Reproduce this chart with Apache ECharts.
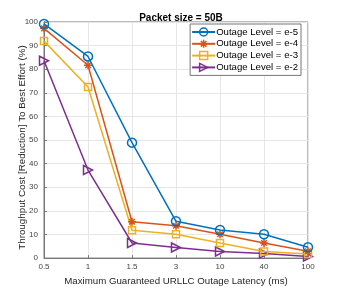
<!DOCTYPE html>
<html><head><meta charset="utf-8">
<script src="https://cdn.jsdelivr.net/npm/echarts@6/dist/echarts.min.js"></script>
<style>html,body{margin:0;padding:0;background:#fff}#c{width:341px;height:291px}</style>
</head><body><div id="c"></div>
<script>
var categories = ['0.5','1','1.5','3','10','40','100'];
var e5 = [99.2, 85.4, 48.9, 15.6, 11.9, 10.1, 4.6];
var e4 = [97.3, 81.7, 15.4, 13.7, 10.1, 6.4, 2.9];
var e3 = [91.9, 72.5, 11.8, 10.1, 6.4, 2.8, 1.7];
var e2 = [83.6, 37.3, 6.4, 4.5, 2.8, 1.9, 0.7];
var names = ['Outage Level = e-5','Outage Level = e-4','Outage Level = e-3','Outage Level = e-2'];
var colors = ['#0072BD','#D95319','#EDB120','#7E2F8E'];
var symbols = ['circle','path://M5,0L5,10M0,5L10,5M1.5,1.5L8.5,8.5M8.5,1.5L1.5,8.5','rect','path://M0,0L10,5L0,10Z'];
var sizes = [9, 8, 7, 9];
var data = [e5, e4, e3, e2];
var font = 'Liberation Sans, Arial, sans-serif';
var chart = echarts.init(document.getElementById('c'));
chart.setOption({
  animation: false,
  title: {text: 'Packet size = 50B', left: 176, top: 8, textAlign: 'center',
    textStyle: {fontFamily: font, fontSize: 10, fontWeight: 'bold', color: '#000'}},
  grid: {left: 44, right: 33, top: 22, bottom: 32, show: true, borderColor: '#777', borderWidth: 1, backgroundColor: '#fff'},
  legend: {
    orient: 'vertical', right: 40, top: 24, itemGap: 1.8, itemWidth: 23, itemHeight: 10,
    backgroundColor: '#fff', borderColor: '#777', borderWidth: 1, padding: [3, 3, 3, 1],
    textStyle: {fontFamily: font, fontSize: 9.6, color: '#000', padding: [0,0,0,-4]},
    data: names.map(function (n, i) {
      return {name: n,
        itemStyle: {color: 'rgba(255,255,255,0)', borderColor: colors[i], borderWidth: 1.5}};
    })
  },
  graphic: [{
    type: 'text', x: 22, y: 147.5, rotation: Math.PI / 2,
    style: {text: 'Throughput Cost [Reduction] To Best Effort (%)', fontFamily: font, fontSize: 9.8,
      fill: '#262626', align: 'center', verticalAlign: 'middle'}
  }],
  xAxis: {
    type: 'category', data: categories, boundaryGap: false,
    name: 'Maximum Guaranteed URLLC Outage Latency (ms)', nameLocation: 'middle', nameGap: 16,
    nameTextStyle: {fontFamily: font, fontSize: 9.7, color: '#262626'},
    axisLine: {lineStyle: {color: '#777'}},
    axisTick: {inside: true, length: 3, alignWithLabel: true, lineStyle: {color: '#777'}},
    axisLabel: {fontFamily: font, fontSize: 8, color: '#444', margin: 5},
    splitLine: {show: true, lineStyle: {color: '#e6e6e6'}}
  },
  yAxis: {
    type: 'value', min: 0, max: 100, interval: 10,
    axisLine: {show: true, lineStyle: {color: '#777'}},
    axisTick: {show: true, inside: true, length: 3, lineStyle: {color: '#777'}},
    axisLabel: {fontFamily: font, fontSize: 8, color: '#444', margin: 6},
    splitLine: {show: true, lineStyle: {color: '#e6e6e6'}}
  },
  series: data.map(function (d, i) {
    return {
      name: names[i], type: 'line', data: d, symbol: symbols[i], symbolSize: sizes[i],
      showAllSymbol: true,
      lineStyle: {color: colors[i], width: 1.5},
      itemStyle: {color: 'rgba(255,255,255,0)', borderColor: colors[i], borderWidth: 1.5},
      z: 10 - i
    };
  })
});
</script></body></html>
